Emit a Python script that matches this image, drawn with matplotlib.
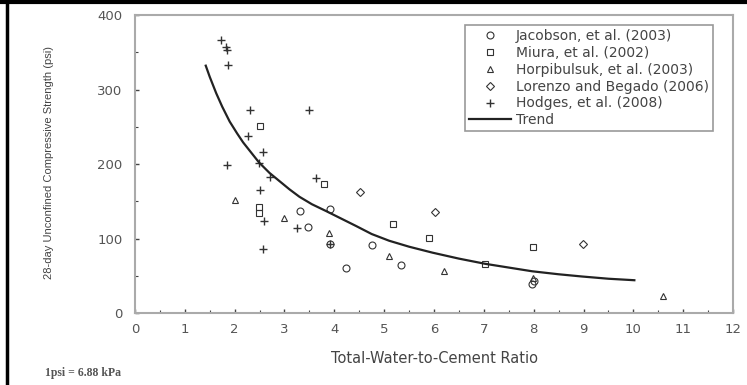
import numpy as np
import matplotlib.pyplot as plt
from matplotlib.lines import Line2D

# data
jacobson_x = [3.32, 3.47, 3.91, 3.92, 4.23, 4.75, 5.33, 7.97, 8.0]
jacobson_y = [137, 115, 140, 93, 60, 91, 65, 39, 43]

miura_x = [2.5, 2.49, 2.49, 3.8, 5.18, 5.89, 7.03, 7.99]
miura_y = [251, 142, 134, 173, 119, 101, 66, 89]

horpibulsuk_x = [2.0, 3.0, 3.9, 5.09, 6.2, 7.99, 10.59]
horpibulsuk_y = [152, 128, 108, 76, 57, 47, 23]

lorenzo_x = [4.52, 6.02, 8.99]
lorenzo_y = [163, 135, 93]

hodges_x = [1.73, 1.82, 1.84, 1.87, 1.84, 2.31, 2.26, 3.5, 2.57, 2.48, 2.71,
            2.51, 2.59, 2.57, 3.25, 3.63, 3.92]
hodges_y = [367, 357, 353, 333, 199, 272, 237, 272, 216, 201, 183,
            165, 123, 86, 114, 181, 93]

trend_x = [1.42, 1.5, 1.63, 1.75, 1.9, 2.05, 2.17, 2.3, 2.49, 2.7, 2.9, 3.1,
           3.3, 3.55, 3.83, 4.1, 4.43, 4.75, 5.1, 5.5, 5.97, 6.5, 7.03, 7.5,
           7.97, 8.5, 8.97, 9.5, 10.02]
trend_y = [332, 317, 295, 277, 257, 241, 229, 218, 202, 188, 177, 166,
           156, 146, 137, 128, 117, 106, 97, 89, 81, 73, 66, 61,
           56, 52, 49, 46, 44]

plt.rcParams['font.family'] = ['DejaVu Sans']

fig = plt.figure(figsize=(7.47, 3.85), dpi=100)
ax = fig.add_axes([0.1807, 0.187, 0.8006, 0.774])

mk = dict(linestyle='none', markerfacecolor='none', markeredgecolor='#333333',
          markeredgewidth=0.8, markersize=5)
ax.plot(jacobson_x, jacobson_y, marker='o', label='Jacobson, et al. (2003)', **mk)
ax.plot(miura_x, miura_y, marker='s', label='Miura, et al. (2002)', **mk)
ax.plot(horpibulsuk_x, horpibulsuk_y, marker='^', label='Horpibulsuk, et al. (2003)', **mk)
ax.plot(lorenzo_x, lorenzo_y, marker='D', label='Lorenzo and Begado (2006)',
        **dict(mk, markersize=4))
ax.plot(hodges_x, hodges_y, marker='+', label='Hodges, et al. (2008)',
        **dict(mk, markersize=5.5, markeredgewidth=1.0))
ax.plot(trend_x, trend_y, color='#222222', linewidth=1.6, label='Trend')

ax.set_xlim(0, 12)
ax.set_ylim(0, 400)
ax.set_xticks(np.arange(0, 13, 1))
ax.set_xticks(np.arange(0, 12.5, 0.5), minor=True)
ax.set_yticks([0, 100, 200, 300, 400])
ax.set_yticks(np.arange(0, 401, 50), minor=True)
ax.tick_params(which='both', direction='in', colors='#444444', labelcolor='#555555',
               labelsize=9.5)
ax.tick_params(which='major', length=3, width=1)
ax.tick_params(which='minor', length=2, width=0.8)
ax.tick_params(axis='x', pad=7)
ax.tick_params(axis='y', pad=9)
for s in ax.spines.values():
    s.set_color('#aaaaaa')
    s.set_linewidth(1.5)

ax.set_xlabel('Total-Water-to-Cement Ratio', fontsize=10.5, color='#444444', labelpad=11)
fig.text(0.066, 0.579, '28-day Unconfined Compressive Strength (psi)', rotation=90,
         ha='center', va='center', fontsize=8, color='#444444',
         family=['Liberation Sans', 'DejaVu Sans'])

leg = ax.legend(loc='upper right', bbox_to_anchor=(0.967, 0.966), fontsize=10,
                numpoints=1, handlelength=3.0, handletextpad=0.4, labelspacing=0.2,
                borderpad=0.3, borderaxespad=0, fancybox=False, framealpha=1)
leg.get_frame().set_edgecolor('#999999')
leg.get_frame().set_linewidth(1.2)
for t in leg.get_texts():
    t.set_color('#444444')

fig.text(0.06, 0.031, '1psi = 6.88 kPa', fontsize=8.5, color='#555555', va='center',
         family=['Liberation Serif', 'DejaVu Serif'], fontweight='bold')

# black frame lines at top and left of picture
fig.add_artist(Line2D([0, 1], [0.996, 0.996], color='black', linewidth=3,
                      transform=fig.transFigure))
fig.add_artist(Line2D([0.009, 0.009], [0, 1], color='black', linewidth=2.5,
                      transform=fig.transFigure))

fig.savefig('out.png', dpi=100)
